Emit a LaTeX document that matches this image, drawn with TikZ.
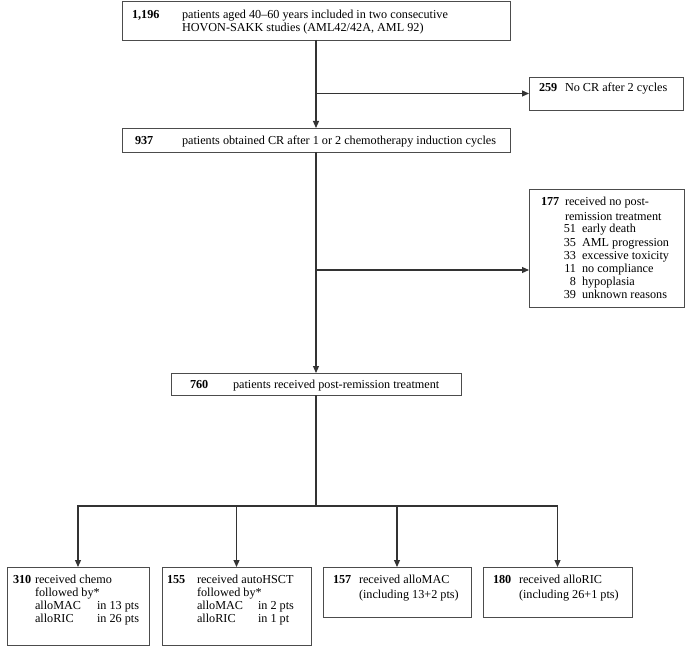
\documentclass[tikz,border=0pt]{standalone}
\usepackage{fontspec}
\setmainfont{Liberation Serif}
\usetikzlibrary{arrows.meta}
\begin{document}
\begin{tikzpicture}[x=1pt,y=-1pt,
  box/.style={draw=black!70,line width=0.8pt,inner sep=0pt,outer sep=0pt},
  conn/.style={draw=black!80,line width=1.1pt},
  arr/.style={conn,-{Triangle[length=7pt,width=6pt]}},
  txt/.style={inner sep=0pt,outer sep=0pt,anchor=base west,font=\fontsize{12.2}{13}\selectfont},
  num/.style={txt,font=\fontsize{12.2}{13}\selectfont\bfseries},
  rnum/.style={txt,anchor=base east}]
\useasboundingbox[fill=white] (0,0) rectangle (685,655);
% boxes
\node[box,minimum width=388pt,minimum height=39pt] (b1) at (316,20.5) {};
\node[box,minimum width=154pt,minimum height=33pt] (b259) at (606,93.5) {};
\node[box,minimum width=388pt,minimum height=24pt] (b937) at (316,140) {};
\node[box,minimum width=155pt,minimum height=118pt] (b177) at (606.5,248) {};
\node[box,minimum width=290pt,minimum height=22pt] (b760) at (316,384) {};
\node[box,minimum width=142pt,minimum height=78pt] (b310) at (78,606) {};
\node[box,minimum width=149pt,minimum height=78pt] (b155) at (236.5,606) {};
\node[box,minimum width=148pt,minimum height=50pt] (b157) at (397,592) {};
\node[box,minimum width=149pt,minimum height=50pt] (b180) at (557.5,592) {};
% texts
\node[num] (t1n) at (132,19) {1,196};
\node[txt] (t1a) at (182,19) {patients aged 40–60 years included in two consecutive};
\node[txt] (t1b) at (182,31.5) {HOVON-SAKK studies (AML42/42A, AML 92)};
\node[num] (t2n) at (539,92) {259};
\node[txt] (t2a) at (565,92) {No CR after 2 cycles};
\node[num] (t3n) at (135,145) {937};
\node[txt] (t3a) at (182,145) {patients obtained CR after 1 or 2 chemotherapy induction cycles};
\node[num] (t4n) at (541,206) {177};
\node[txt] (t4a) at (565,206) {received no post-};
\node[txt] (t4b) at (565,220) {remission treatment};
\node[rnum] (t4c) at (576,233) {51};
\node[txt] (t4cc) at (582,233) {early death};
\node[rnum] (t4d) at (576,246) {35};
\node[txt] (t4dd) at (582,246) {AML progression};
\node[rnum] (t4e) at (576,259) {33};
\node[txt] (t4ee) at (582,259) {excessive toxicity};
\node[rnum] (t4f) at (576,272) {11};
\node[txt] (t4ff) at (582,272) {no compliance};
\node[rnum] (t4g) at (576,285) {8};
\node[txt] (t4gg) at (582,285) {hypoplasia};
\node[rnum] (t4h) at (576,298) {39};
\node[txt] (t4hh) at (582,298) {unknown reasons};
\node[num] (t5n) at (190,388) {760};
\node[txt] (t5a) at (233,388) {patients received post-remission treatment};
\node[num] (t6n) at (13,583) {310};
\node[txt] (t6a) at (35,583) {received chemo};
\node[txt] (t6b) at (35,596) {followed by*};
\node[txt] (t6c) at (35,609) {alloMAC};
\node[txt] (t6d) at (97,609) {in 13 pts};
\node[txt] (t6e) at (35,622) {alloRIC};
\node[txt] (t6f) at (97,622) {in 26 pts};
\node[num] (t7n) at (167,583) {155};
\node[txt] (t7a) at (197,583) {received autoHSCT};
\node[txt] (t7b) at (197,596) {followed by*};
\node[txt] (t7c) at (197,609) {alloMAC};
\node[txt] (t7d) at (258,609) {in 2 pts};
\node[txt] (t7e) at (197,622) {alloRIC};
\node[txt] (t7f) at (258,622) {in 1 pt};
\node[num] (t8n) at (333,583) {157};
\node[txt] (t8a) at (359,583) {received alloMAC};
\node[txt] (t8b) at (359,598) {(including 13+2 pts)};
\node[num] (t9n) at (493,583) {180};
\node[txt] (t9a) at (519,583) {received alloRIC};
\node[txt] (t9b) at (519,598) {(including 26+1 pts)};
% connectors
\draw[arr] (b1.south) -- (b937.north);
\coordinate (j1) at (b1.south |- b259.west);
\draw[arr] (j1) -- (b259.west);
\draw[arr] (b937.south) -- (b760.north);
\coordinate (j2) at (316,270);
\draw[arr] (j2) -- (b177.west |- j2);
\coordinate (h) at (316,506);
\draw[conn] (b760.south) -- (h);
\draw[conn,line cap=rect] (b310.north |- h) -- (b180.north |- h);
\draw[arr] (b310.north |- h) -- (b310.north);
\draw[arr] (b155.north |- h) -- (b155.north);
\draw[arr] (b157.north |- h) -- (b157.north);
\draw[arr] (b180.north |- h) -- (b180.north);
\end{tikzpicture}
\end{document}
